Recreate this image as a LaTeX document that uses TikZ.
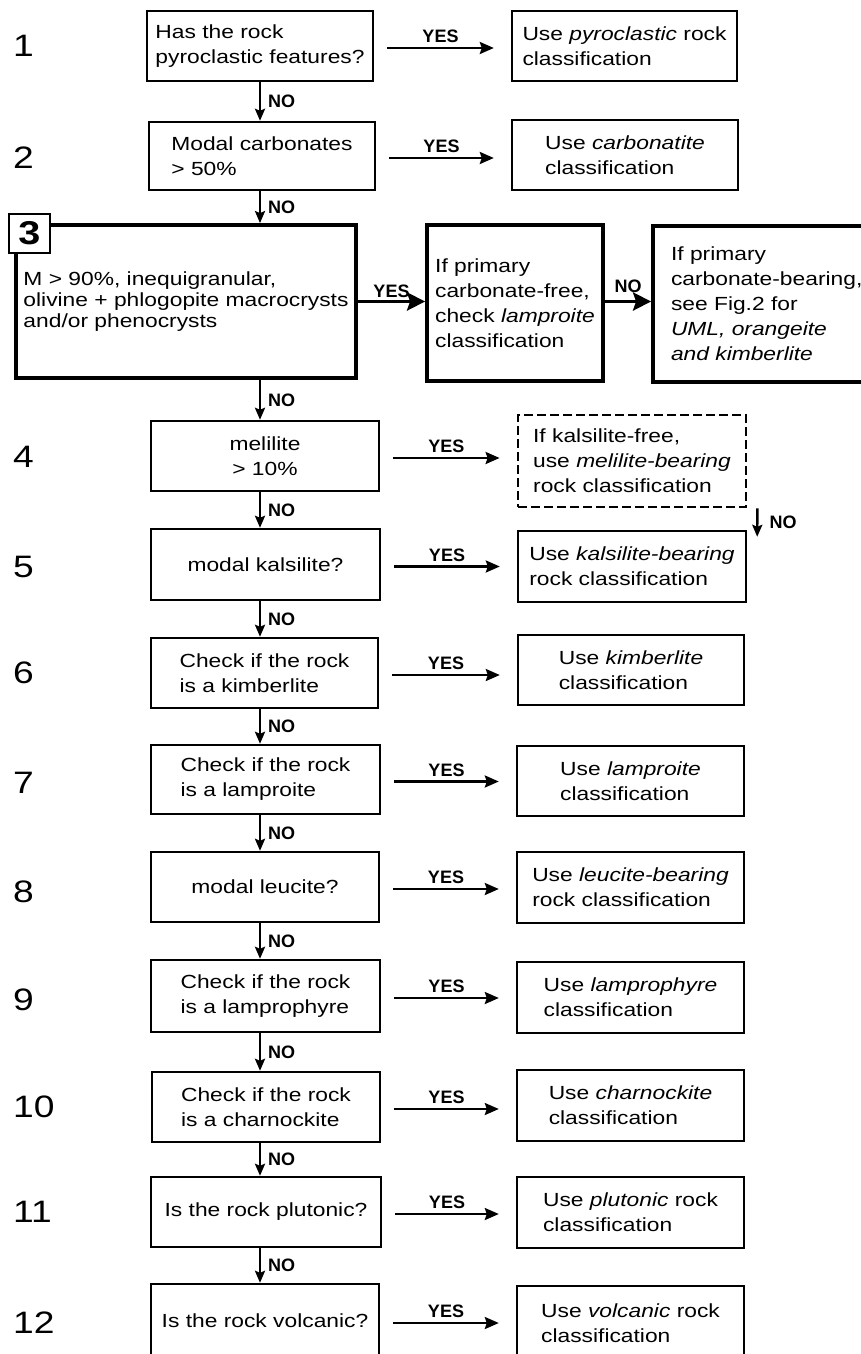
\documentclass[tikz,border=0pt]{standalone}
\usepackage{fontspec}
\setmainfont{Liberation Sans}
\newfontfamily\bodyfont[FakeStretch=1.2]{Liberation Sans}
\newfontfamily\labfont{Liberation Sans}
\usetikzlibrary{arrows.meta,calc}
\tikzset{
  box/.style={draw,line width=2.4pt,inner sep=0pt,align=left,
    font=\bodyfont\fontsize{19}{25}\selectfont},
  thickbox/.style={box,line width=3.8pt},
  dashbox/.style={box,line width=2.8pt,dash pattern=on 9pt off 4pt},
  rownum/.style={anchor=west,inner sep=0pt,font=\bodyfont\fontsize{31}{31}\selectfont},
  numbox/.style={draw,fill=white,line width=2.7pt,inner sep=0pt,
    font=\bodyfont\bfseries\fontsize{33}{33}\selectfont},
  lab/.style={font=\labfont\bfseries\fontsize{18}{18}\selectfont,inner sep=2pt},
  yesarrow/.style={line width=2.4pt,-{Stealth[length=14pt,width=12pt,inset=2pt]}},
  downarrow/.style={line width=2.4pt,-{Stealth[length=12pt,width=10pt,inset=2pt]}},
  thickarrow/.style={line width=3.8pt,-{Stealth[length=18pt,width=18pt,inset=3pt]}},
}
\begin{document}
\begin{tikzpicture}[x=1pt,y=-1pt]
\useasboundingbox (0,0) rectangle (861,1354);
\clip (0,0) rectangle (861,1354);
\fill[white] (0,0) rectangle (861,1354);

% row numbers
\node[rownum] (r1) at (13,46) {1};
\node[rownum] (r2) at (13,158) {2};
\node[rownum] (r4) at (13,457) {4};
\node[rownum] (r5) at (13,567) {5};
\node[rownum] (r6) at (13,673) {6};
\node[rownum] (r7) at (13,783) {7};
\node[rownum] (r8) at (13,892) {8};
\node[rownum] (r9) at (13,1000) {9};
\node[rownum] (r10) at (13,1107) {10};
\node[rownum] (r11) at (13,1212) {11};
\node[rownum] (r12) at (13,1323) {12};

% left column
\node[box,minimum width=226,minimum height=70] (b1) at (260,46) {Has the rock\\pyroclastic features?};
\node[box,minimum width=226,minimum height=68] (b2) at (262,156) {Modal carbonates\\> 50\%};
\node[thickbox,minimum width=340,minimum height=153,
  font=\bodyfont\fontsize{19}{21}\selectfont] (b3) at (186,301.5)
  {M > 90\%, inequigranular,\\olivine + phlogopite macrocrysts\\and/or phenocrysts};
\node[numbox,minimum width=41,minimum height=39] (s3) at (29.5,233.5) {3};
\node[box,align=center,minimum width=228,minimum height=70] (b4) at (265,456) {melilite\\> 10\%};
\node[box,minimum width=229,minimum height=71] (b5) at (265.5,564.5) {modal kalsilite?};
\node[box,minimum width=227,minimum height=70] (b6) at (264.5,673) {Check if the rock\\is a kimberlite};
\node[box,minimum width=229,minimum height=69] (b7) at (265.5,779.5) {Check if the rock\\is a lamproite};
\node[box,minimum width=228,minimum height=70] (b8) at (265,887) {modal leucite?};
\node[box,minimum width=229,minimum height=72] (b9) at (265.5,996) {Check if the rock\\is a lamprophyre};
\node[box,minimum width=228,minimum height=70] (b10) at (266,1107) {Check if the rock\\is a charnockite};
\node[box,minimum width=230,minimum height=70] (b11) at (266,1212) {Is the rock plutonic?};
\node[box,minimum width=228,minimum height=74] (b12) at (265,1321) {Is the rock volcanic?};

% right column
\node[box,minimum width=225,minimum height=70] (b1r) at (624.5,46) {Use \textit{pyroclastic} rock\\classification};
\node[box,minimum width=226,minimum height=70] (b2r) at (625,155) {Use \textit{carbonatite}\\classification};
\node[thickbox,minimum width=176,minimum height=156] (b3b) at (515,303)
  {If primary\\carbonate-free,\\check \textit{lamproite}\\classification};
\node[thickbox,text width=204,inner xsep=18,minimum height=156] (b3c) at (773,304)
  {If primary\\carbonate-bearing,\\see Fig.2 for\\\textit{UML, orangeite}\\\textit{and kimberlite}};
\node[dashbox,minimum width=228,minimum height=92] (b4r) at (632,461)
  {If kalsilite-free,\\use \textit{melilite-bearing}\\rock classification};
\node[box,minimum width=228,minimum height=71] (b5r) at (632,566.5) {Use \textit{kalsilite-bearing}\\rock classification};
\node[box,minimum width=226,minimum height=70] (b6r) at (631,670) {Use \textit{kimberlite}\\classification};
\node[box,minimum width=227,minimum height=70] (b7r) at (630.5,781) {Use \textit{lamproite}\\classification};
\node[box,minimum width=227,minimum height=71] (b8r) at (630.5,887.5) {Use \textit{leucite-bearing}\\rock classification};
\node[box,minimum width=227,minimum height=71] (b9r) at (630.5,997.5) {Use \textit{lamprophyre}\\classification};
\node[box,minimum width=227,minimum height=71] (b10r) at (630.5,1105.5) {Use \textit{charnockite}\\classification};
\node[box,minimum width=227,minimum height=71] (b11r) at (630.5,1212.5) {Use \textit{plutonic} rock\\classification};
\node[box,minimum width=227,minimum height=74] (b12r) at (630.5,1323) {Use \textit{volcanic} rock\\classification};

% vertical NO arrows
\coordinate (xc) at (260,0);
\foreach \a/\b in {b1/b2,b2/b3,b3/b4,b4/b5,b5/b6,b6/b7,b7/b8,b8/b9,b9/b10,b10/b11,b11/b12}
  \draw[downarrow] (\a.south -| xc) -- node[lab,right=5pt]{NO} (\b.north -| xc);

% horizontal YES arrows
\foreach \a in {1,2,4,5,6,7,8,9,10,11,12}
  \draw[yesarrow] ($(b\a.east)+(13,2)$) -- node[lab,above=2pt]{YES} ($(b\a.east -| b\a r.west)+(-17,2)$);

% row 3 thick arrows
\draw[thickarrow] (b3.east) -- node[lab,above=0pt]{YES} (b3.east -| b3b.west);
\draw[thickarrow] (b3.east -| b3b.east) -- node[lab,above=5pt]{NO} (b3.east -| b3c.west);

% NO from dashed box
\coordinate (n4a) at ($(b4r.south east)+(10,0)$);
\coordinate (n4b) at ($(b5r.north east)+(10,7)$);
\draw[downarrow] (n4a) -- node[lab,right=9pt]{NO} (n4b);
\end{tikzpicture}
\end{document}
